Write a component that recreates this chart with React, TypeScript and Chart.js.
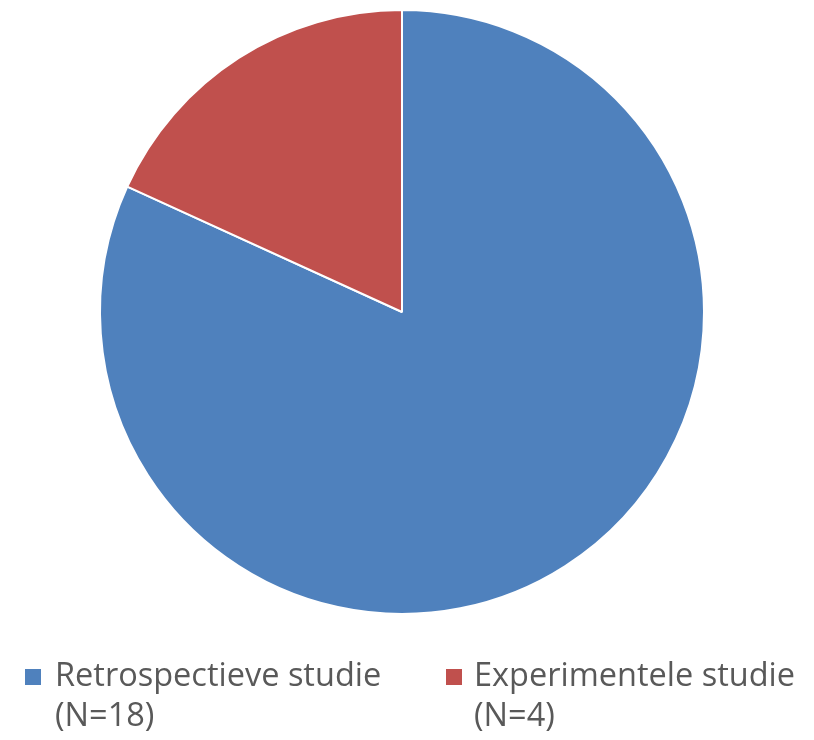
import React, { useEffect, useRef } from "react";
import { Chart, registerables } from "chart.js";

Chart.register(...registerables);

const categories: string[] = ["Retrospectieve studie", "Experimentele studie"];
const counts: number[] = [18, 4];
const colors: string[] = ["#4F81BD", "#C0504D"];

const FONT = '"Open Sans", "Liberation Sans", sans-serif';

const legendPlugin = {
  id: "wrappedLegend",
  afterDraw(chart: any) {
    const ctx = chart.ctx as CanvasRenderingContext2D;
    const labels: string[] = chart.data.labels;
    const ds = chart.data.datasets[0];
    const items = [
      { mx: 25, tx: 55 },
      { mx: 446, tx: 474 },
    ];
    ctx.save();
    ctx.font = `32.5px ${FONT}`;
    ctx.textBaseline = "alphabetic";
    ctx.textAlign = "left";
    labels.forEach((lab, i) => {
      const pos = items[i];
      ctx.fillStyle = ds.backgroundColor[i];
      ctx.fillRect(pos.mx, 669, 16, 16);
      ctx.fillStyle = "#595959";
      ctx.fillText(lab, pos.tx, 686);
      ctx.fillText(`(N=${ds.data[i]})`, pos.tx, 726);
    });
    ctx.restore();
  },
};

export default function App() {
  const ref = useRef<HTMLCanvasElement>(null);
  useEffect(() => {
    if (!ref.current) return;
    const chart = new Chart(ref.current, {
      type: "pie",
      data: {
        labels: categories,
        datasets: [
          {
            data: counts,
            backgroundColor: colors,
            borderColor: "#FFFFFF",
            borderWidth: 2,
            hoverOffset: 0,
          },
        ],
      },
      options: {
        animation: false,
        responsive: false,
        maintainAspectRatio: false,
        layout: { padding: { top: 9, left: 99, right: 109, bottom: 125 } },
        plugins: {
          legend: { display: false },
          tooltip: { enabled: false },
        },
      },
      plugins: [legendPlugin],
    });
    return () => chart.destroy();
  }, []);
  return (
    <div style={{ position: "fixed", left: 0, top: 0, width: 814, height: 740, background: "#fff" }}>
      <canvas ref={ref} width={814} height={740} style={{ width: 814, height: 740 }} />
    </div>
  );
}
